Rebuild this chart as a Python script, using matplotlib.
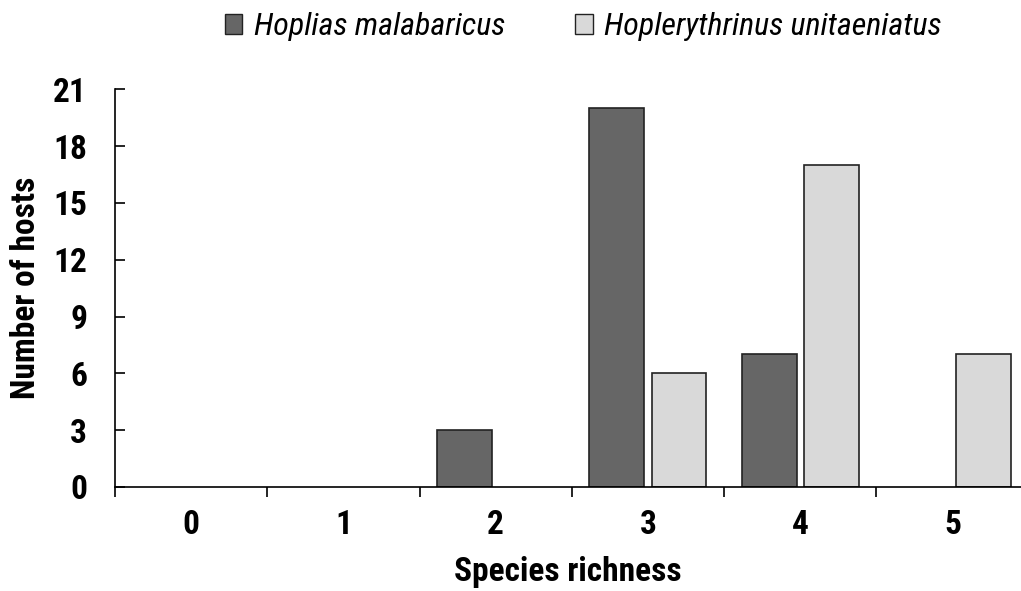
import numpy as np
import matplotlib
matplotlib.use("Agg")
import matplotlib.pyplot as plt
from matplotlib import font_manager as fm
from matplotlib.patches import Patch
from matplotlib.ticker import FixedLocator, NullFormatter

# data
richness = [0, 1, 2, 3, 4, 5]
hoplias = [0, 0, 3, 20, 7, 0]
hoplerythrinus = [0, 0, 0, 6, 17, 7]
yticks = [0, 3, 6, 9, 12, 15, 18, 21]
names = ['Hoplias malabaricus', 'Hoplerythrinus unitaeniatus']
colors = ['#666666', '#d9d9d9']

# narrow font, close to Arial Narrow
have = {f.name for f in fm.fontManager.ttflist}
narrow = [n for n in ['Roboto Condensed', 'Barlow Semi Condensed', 'Asap Condensed'] if n in have]
plt.rcParams['font.family'] = narrow[:1] + ['Liberation Sans', 'DejaVu Sans']

fig = plt.figure(figsize=(10.21, 5.91), dpi=100)
ax = fig.add_axes([0.1126, 0.176, 0.8874, 0.673])

x = np.array(richness)
w = 0.36
off = 0.204
for vals, sign, c in ((hoplias, -1, colors[0]), (hoplerythrinus, 1, colors[1])):
    v = np.array(vals)
    m = v > 0
    ax.bar(x[m] + sign * off, v[m], w, color=c, edgecolor='#222222', linewidth=1.2)

ax.set_xlim(-0.5, 5.45)
ax.set_ylim(0, 21)
ax.set_yticks(yticks)
ax.set_xticks(richness)
ax.xaxis.set_minor_locator(FixedLocator(np.arange(-0.5, 5.6, 1)))
ax.xaxis.set_minor_formatter(NullFormatter())
ax.tick_params(axis='x', which='major', length=0, pad=15.5, labelsize=24)
ax.tick_params(axis='x', which='minor', length=7.5, width=1.2, direction='out')
ax.tick_params(axis='y', length=7, width=1.2, direction='in', labelsize=24, pad=20)
for lab in ax.get_xticklabels() + ax.get_yticklabels():
    lab.set_fontweight('bold')

for s in ('top', 'right'):
    ax.spines[s].set_visible(False)
ax.spines['left'].set_linewidth(1.2)
ax.spines['bottom'].set_linewidth(1.2)

ax.set_xlabel('Species richness', fontsize=24, fontweight='bold', labelpad=11)
ax.set_ylabel('Number of hosts', fontsize=24, fontweight='bold', labelpad=8)

handles = [Patch(facecolor=c, edgecolor='#222222', linewidth=1.0) for c in colors]
fig.legend(handles, names, loc='upper left', bbox_to_anchor=(0.192, 1.028), ncol=2,
           frameon=False, prop={'style': 'italic', 'size': 23}, handlelength=0.55,
           handleheight=0.55, handletextpad=0.35, columnspacing=2.2)

fig.savefig('out.png', dpi=100)
